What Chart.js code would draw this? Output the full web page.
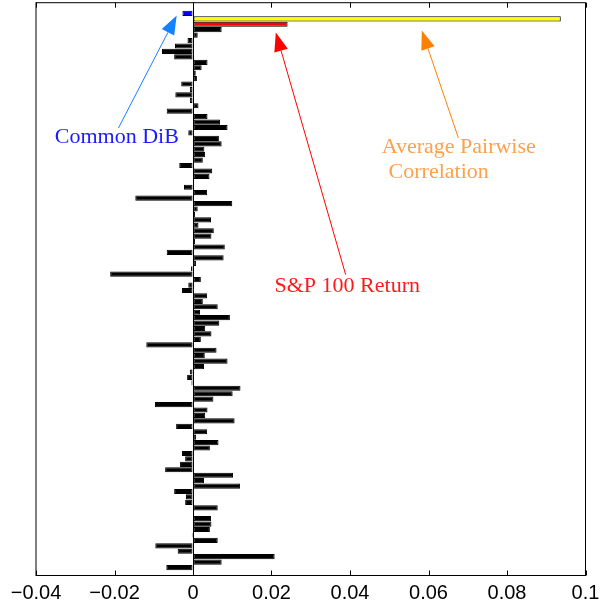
<!DOCTYPE html>
<html>
<head>
<meta charset="utf-8">
<script src="https://cdn.jsdelivr.net/npm/chart.js@4.4.1/dist/chart.umd.min.js"></script>
<style>
  html, body { margin: 0; padding: 0; background: #fff; }
  #wrap { width: 600px; height: 604px; position: relative; }
</style>
</head>
<body>
<div id="wrap"><canvas id="c" width="600" height="604"></canvas></div>
<script>
// special bars at the top
const commonDiB = -0.0027;
const avgPairwiseCorr = 0.0937;
const sp100Return = 0.0241;

// individual stock bars, top to bottom
const stockValues = [
  0.0073, 0.0012, -0.0014, -0.0046, -0.0079, -0.0048, 0.0037, 0.0022, 0.0007, 0.0010,
  -0.0030, -0.0008, -0.0045, -0.0008, 0.0014, -0.0067, 0.0037, 0.0069, 0.0088, -0.0012,
  0.0066, 0.0073, 0.0029, 0.0031, 0.0025, -0.0035, 0.0049, 0.0042, 0.0002, -0.0023,
  0.0036, -0.0147, 0.0100, 0.0012, 0.0005, 0.0046, 0.0014, 0.0053, 0.0047, 0.0005,
  0.0081, -0.0067, 0.0078, 0.0008, -0.0005, -0.0211, 0.0020, -0.0012, -0.0028, 0.0036,
  0.0025, 0.0063, 0.0018, 0.0094, 0.0067, 0.0031, 0.0047, 0.0020, -0.0119, 0.0060,
  0.0030, 0.0088, 0.0028, -0.0008, -0.0015, -0.0004, 0.0121, 0.0101, 0.0052, -0.0097,
  0.0037, 0.0031, 0.0106, -0.0043, 0.0036, 0.0008, 0.0065, 0.0043, -0.0028, -0.0020,
  -0.0033, -0.0071, 0.0102, 0.0028, 0.0120, -0.0048, -0.0018, -0.0020, 0.0063, 0.0003,
  0.0046, 0.0047, 0.0043, -0.0003, 0.0063, -0.0096, -0.0039, 0.0208, 0.0073, -0.0068
];

const xTicks = [-0.04, -0.02, 0, 0.02, 0.04, 0.06, 0.08, 0.1];

// annotations: text in data coords, arrows from tail to head
const notes = [
  { lines: ['Common DiB'], at: [[-0.0194, 23.8]], text: '#1a1aff', arrow: 'rgb(20,130,255)',
    tail: [-0.0190, 21.1], head: [-0.00415, 0.37] },
  { lines: ['S&P 100 Return'], at: [[0.0393, 51.2]], text: '#ff1a1a', arrow: '#ff0000',
    tail: [0.0389, 48.1], head: [0.0211, 3.5] },
  { lines: ['Average Pairwise', 'Correlation'], at: [[0.0677, 25.7], [0.0626, 30.3]],
    text: '#ffa04a', arrow: '#ff8000', tail: [0.0676, 22.9], head: [0.0583, 3.13] }
];

const allValues = [commonDiB, avgPairwiseCorr, sp100Return].concat(stockValues);
const barColors = ['#0000ff', '#ffff00', '#ff0000'].concat(stockValues.map(() => '#000000'));
const barData = allValues.map((v, i) => ({ x: v, y: i }));

const fmt = v => {
  const s = String(Number(v.toFixed(2)));
  return s.replace('-', '\u2212');
};

const decor = {
  id: 'decor',
  afterDatasetsDraw(chart) {
    const { ctx, chartArea: a, scales: { x, y } } = chart;
    ctx.save();
    // box
    ctx.strokeStyle = '#000';
    ctx.lineWidth = 1;
    ctx.strokeRect(a.left, a.top, a.right - a.left, a.bottom - a.top);
    // inward ticks top and bottom
    ctx.beginPath();
    xTicks.forEach(t => {
      const px = Math.round(x.getPixelForValue(t)) + 0.5;
      ctx.moveTo(px, a.top); ctx.lineTo(px, a.top + 5);
      ctx.moveTo(px, a.bottom); ctx.lineTo(px, a.bottom - 5);
    });
    ctx.stroke();
    // arrows + text
    notes.forEach(n => {
      const tx = x.getPixelForValue(n.tail[0]), ty = y.getPixelForValue(n.tail[1]);
      const hx = x.getPixelForValue(n.head[0]), hy = y.getPixelForValue(n.head[1]);
      const ang = Math.atan2(hy - ty, hx - tx);
      const len = 19, hw = 7;
      const bx = hx - len * Math.cos(ang), by = hy - len * Math.sin(ang);
      ctx.strokeStyle = n.arrow;
      ctx.fillStyle = n.arrow;
      ctx.lineWidth = 1;
      ctx.beginPath();
      ctx.moveTo(tx, ty); ctx.lineTo(bx, by);
      ctx.stroke();
      ctx.beginPath();
      ctx.moveTo(hx, hy);
      ctx.lineTo(bx + hw * Math.sin(ang), by - hw * Math.cos(ang));
      ctx.lineTo(bx - hw * Math.sin(ang), by + hw * Math.cos(ang));
      ctx.closePath();
      ctx.fill();
      ctx.fillStyle = n.text;
      ctx.font = '22px "Liberation Serif"';
      ctx.textAlign = 'center';
      ctx.textBaseline = 'alphabetic';
      n.lines.forEach((ln, i) => {
        ctx.fillText(ln, x.getPixelForValue(n.at[i][0]), y.getPixelForValue(n.at[i][1]));
      });
    });
    ctx.restore();
  }
};

new Chart(document.getElementById('c'), {
  type: 'bar',
  data: {
    datasets: [{
      data: barData,
      backgroundColor: barColors,
      borderColor: '#000',
      borderWidth: 1,
      borderSkipped: false,
      barPercentage: 0.95,
      categoryPercentage: 1
    }]
  },
  options: {
    indexAxis: 'y',
    responsive: false,
    animation: false,
    layout: { padding: { left: 36, right: 14.5, top: 2.7, bottom: 0 } },
    plugins: { legend: { display: false }, tooltip: { enabled: false } },
    scales: {
      x: {
        type: 'linear',
        min: -0.04, max: 0.1,
        afterBuildTicks: s => { s.ticks = xTicks.map(v => ({ value: v })); },
        afterFit: s => { s.height = 28.5; s.paddingLeft = 0; s.paddingRight = 0; },
        border: { display: false },
        grid: {
          drawTicks: false,
          color: c => (c.tick && c.tick.value === 0 ? '#000' : 'rgba(0,0,0,0)'),
          lineWidth: 1
        },
        ticks: {
          padding: 6,
          color: '#000',
          font: { family: '"Liberation Sans", Arial, sans-serif', size: 20 },
          callback: v => fmt(v),
          maxRotation: 0,
          autoSkip: false
        }
      },
      y: {
        type: 'linear',
        reverse: true,
        offset: false,
        grid: { offset: false },
        min: -1.97, max: 103.46,
        afterBuildTicks: s => { s.ticks = []; },
        display: false
      }
    }
  },
  plugins: [decor]
});
</script>
</body>
</html>
